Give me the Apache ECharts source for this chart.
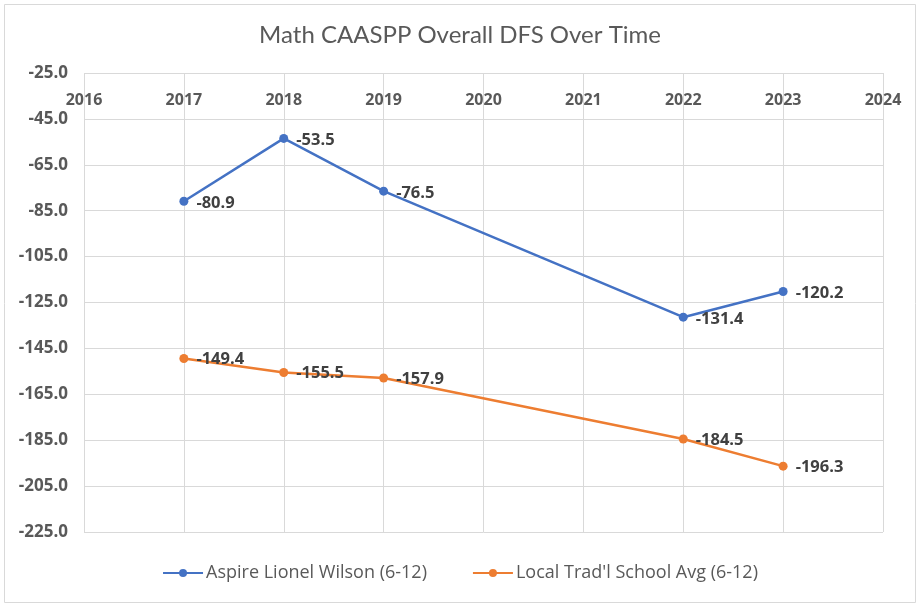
<!DOCTYPE html>
<html>
<head>
<meta charset="utf-8">
<script src="https://cdn.jsdelivr.net/npm/echarts@6/dist/echarts.min.js"></script>
<style>
  html, body { margin: 0; padding: 0; background: #fff; }
  #main { width: 920px; height: 607px; }
</style>
</head>
<body>
<div id="main"></div>
<script>
var years = [2017, 2018, 2019, 2022, 2023];
var aspire = [-80.9, -53.5, -76.5, -131.4, -120.2];
var localAvg = [-149.4, -155.5, -157.9, -184.5, -196.3];
var seriesNames = ['Aspire Lionel Wilson (6-12)', "Local Trad'l School Avg (6-12)"];

var titleFont = 'Lato, sans-serif';
var font = '"Open Sans", sans-serif';
var textGrey = '#595959';
var gridGrey = '#d9d9d9';

function pairs(vals) {
    return years.map(function (y, i) { return [y, vals[i]]; });
}

function dataLabel(dy) {
    return {
        show: true,
        position: 'right',
        distance: 8,
        offset: [0, dy],
        fontFamily: font,
        fontSize: 16.5,
        fontWeight: 'bold',
        color: '#404040',
        formatter: function (p) { return p.value[1].toFixed(1); }
    };
}

var myChart = echarts.init(document.getElementById('main'));

var option = {
    animation: false,
    title: {
        text: 'Math CAASPP Overall DFS Over Time',
        left: 'center',
        top: 18,
        textStyle: { fontFamily: titleFont, fontSize: 24, fontWeight: 'normal', color: textGrey }
    },
    graphic: [{
        type: 'rect',
        shape: { x: 4.5, y: 4.5, width: 911, height: 598 },
        style: { fill: 'none', stroke: gridGrey, lineWidth: 1 },
        silent: true
    }],
    legend: {
        bottom: 20,
        itemGap: 45,
        itemWidth: 40,
        itemHeight: 10,
        textStyle: { fontFamily: font, fontSize: 18, color: textGrey, padding: [0, 0, 0, -2] },
        data: seriesNames
    },
    grid: { left: 84, right: 37, top: 73, bottom: 75 },
    xAxis: {
        type: 'value',
        position: 'top',
        min: 2016,
        max: 2024,
        interval: 1,
        axisLine: { show: false },
        axisTick: { show: false },
        axisLabel: {
            inside: true,
            margin: 19,
            fontFamily: font,
            fontSize: 16,
            fontWeight: 'bold',
            color: textGrey,
            formatter: function (v) { return String(v); }
        },
        splitLine: { show: true, lineStyle: { color: gridGrey, width: 1 } }
    },
    yAxis: {
        type: 'value',
        min: -225,
        max: -25,
        interval: 20,
        axisLine: { show: false },
        axisTick: { show: false },
        axisLabel: {
            margin: 16,
            fontFamily: font,
            fontSize: 17,
            fontWeight: 'bold',
            color: textGrey,
            formatter: function (v) { return v.toFixed(1); }
        },
        splitLine: { lineStyle: { color: gridGrey, width: 1 } }
    },
    series: [{
        name: seriesNames[0],
        type: 'line',
        data: pairs(aspire),
        color: '#4472C4',
        symbol: 'circle',
        symbolSize: 9,
        lineStyle: { width: 2.5 },
        label: dataLabel(2)
    }, {
        name: seriesNames[1],
        type: 'line',
        data: pairs(localAvg),
        color: '#ED7D31',
        symbol: 'circle',
        symbolSize: 9,
        lineStyle: { width: 2.5 },
        label: dataLabel(1)
    }]
};

myChart.setOption(option);
</script>
</body>
</html>
